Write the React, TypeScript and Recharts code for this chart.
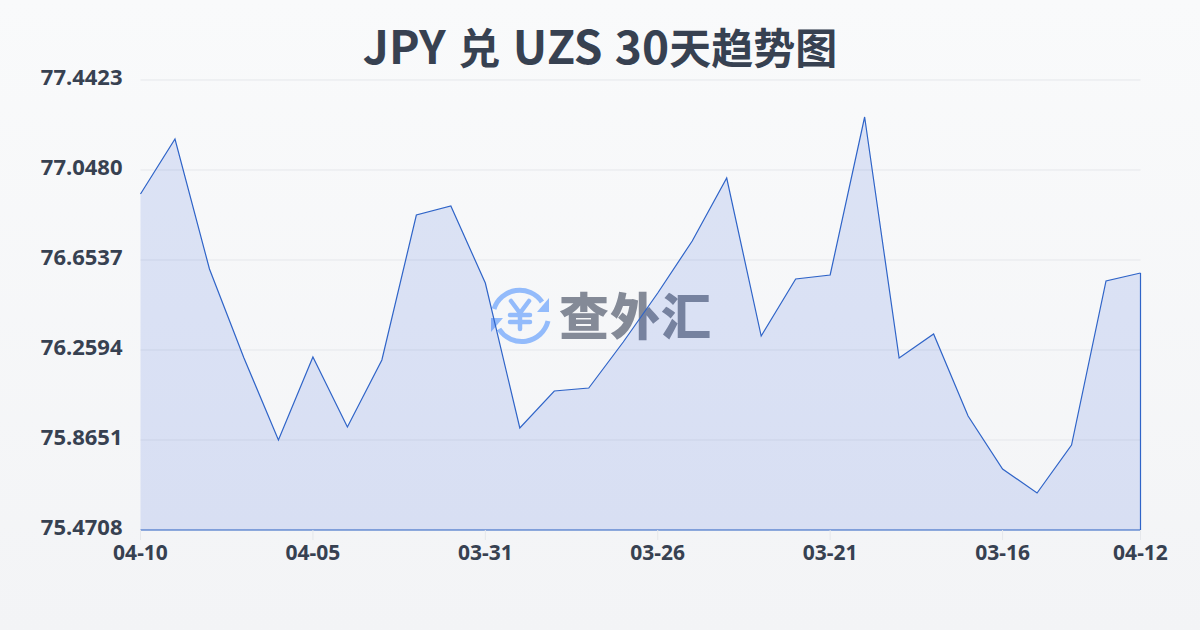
import React from "react";
import { AreaChart, Area, XAxis, YAxis, CartesianGrid, ReferenceLine } from "recharts";

const TITLE_PARTS = [
  { text: "JPY ", latin: true },
  { text: "兑", latin: false },
  { text: " UZS 30", latin: true },
  { text: "天趋势图", latin: false },
];
const dates = ["04-10","04-09","04-08","04-07","04-06","04-05","04-04","04-03","04-02","04-01","03-31","03-30","03-29","03-28","03-27","03-26","03-25","03-24","03-23","03-22","03-21","03-20","03-19","03-18","03-17","03-16","03-15","03-14","03-13","04-12"];
const rates = [76.9429,77.1838,76.6143,76.2243,75.8651,76.2287,75.9221,76.2156,76.8508,76.8903,76.5529,75.9177,76.0798,76.0929,76.2944,76.5091,76.7369,77.0129,76.3207,76.5705,76.588,77.2802,76.2243,76.3295,75.9702,75.738,75.6329,75.8432,76.5617,76.5967];
const yTicks = [75.4708,75.8651,76.2594,76.6537,77.048,77.4423];
const xTicks = ["04-10","04-05","03-31","03-26","03-21","03-16","04-12"];
const data = dates.map((date, i) => ({ date, rate: rates[i] }));

const FONT = '"Noto Sans","Noto Sans CJK SC",sans-serif';
const LINE = "#2f64c8";
const TEXT = "#374151";
const LOGO = "#93bbfb";
const yMin = yTicks[0];

export default function App() {
  return (
    <div style={{ position: "absolute", left: 0, top: 0, width: 1200, height: 630, overflow: "hidden", background: "linear-gradient(180deg,#f9fafb 0%,#f3f4f6 100%)", fontFamily: FONT }}>
      <div style={{ position: "absolute", left: 0, top: 14, width: 1200, textAlign: "center", fontFamily: '"Noto Sans CJK SC"', fontSize: 42, lineHeight: "60px", fontWeight: 700, color: TEXT, whiteSpace: "pre", wordSpacing: 2 }}>
        {TITLE_PARTS.map((p) => (
          <span key={p.text} style={{ fontSize: p.latin ? 46 : 42 }}>{p.text}</span>
        ))}
      </div>
      <svg width={64} height={64} viewBox="0 0 64 64" style={{ position: "absolute", left: 488, top: 283 }}>
        <g fill="none" stroke={LOGO} strokeWidth={5}>
          <path d="M6 26 A27 27 0 0 1 54 19" />
          <path d="M60 38 A27 27 0 0 1 11 46" />
          <path d="M23 18 L32 30 L41 18 M22 32 H42 M22 39 H42 M32 30 V46" strokeWidth={4.5} strokeLinecap="round" />
        </g>
        <path d="M61 15 V29 H49 Z" fill={LOGO} />
        <path d="M3 49 V35 H15 Z" fill={LOGO} />
      </svg>
      <div style={{ position: "absolute", left: 559, top: 277, fontFamily: '"Noto Sans CJK SC"', fontSize: 50, lineHeight: "72px", letterSpacing: 1, fontWeight: 900, color: "#848a97" }}>查外汇</div>
      <div style={{ position: "absolute", left: 0, top: 0 }}>
        <AreaChart width={1200} height={630} data={data} margin={{ top: 80, right: 59.5, bottom: 0, left: 0 }}>
          <CartesianGrid horizontal vertical={false} stroke="#e5e7eb" strokeWidth={1} />
          <XAxis dataKey="date" ticks={xTicks} interval={0} height={100} axisLine={false} tick={{ fill: TEXT, fontSize: 21, fontWeight: 700, fontFamily: FONT }} tickLine={{ stroke: "#e5e7eb" }} tickSize={10} tickMargin={5} scale="point" />
          <YAxis type="number" width={140.5} domain={[75.4708, 77.4423]} ticks={yTicks} interval={0} allowDataOverflow axisLine={false} tickLine={false} tickMargin={12} tickFormatter={(v: number) => v.toFixed(4)} tick={{ fill: TEXT, fontSize: 22, fontWeight: 700, fontFamily: FONT, dy: -3 }} />
          <Area type="linear" dataKey="rate" stroke={LINE} strokeWidth={1.2} fill="#1d4ed8" fillOpacity={0.13} isAnimationActive={false} dot={false} activeDot={false} />
          <ReferenceLine segment={[{ x: dates[0], y: yMin }, { x: dates[0], y: rates[0] }]} stroke={LINE} strokeWidth={1.2} />
          <ReferenceLine segment={[{ x: dates[29], y: yMin }, { x: dates[29], y: rates[29] }]} stroke={LINE} strokeWidth={1.2} />
          <ReferenceLine y={yMin} stroke={LINE} strokeWidth={1.2} />
        </AreaChart>
      </div>
    </div>
  );
}
